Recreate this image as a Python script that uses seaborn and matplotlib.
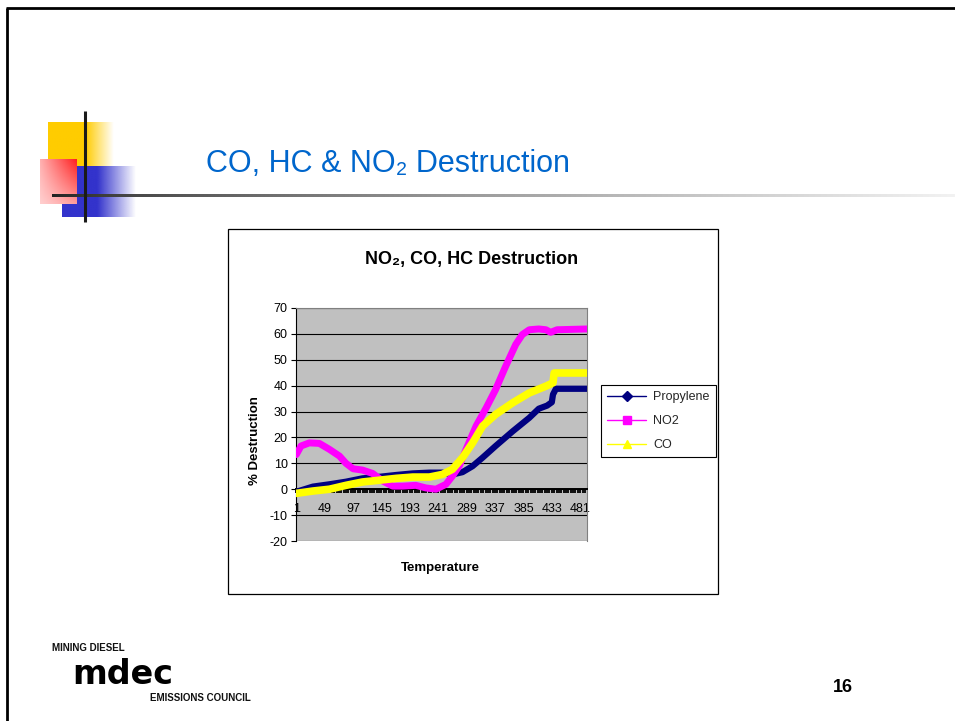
import numpy as np
import pandas as pd
import matplotlib
matplotlib.use("Agg")
import matplotlib.pyplot as plt
import seaborn as sns
from matplotlib.lines import Line2D
from matplotlib.patches import Rectangle

# ---------------- data ----------------
n_categories = 492
tick_labels = [1, 49, 97, 145, 193, 241, 289, 337, 385, 433, 481]
y_ticks = [-20, -10, 0, 10, 20, 30, 40, 50, 60, 70]
series_names = ["Propylene", "NO2", "CO"]

propylene_x = [1, 29, 57, 85, 113, 142, 170, 198, 226, 248, 265, 282, 299, 316, 338,
               367, 395, 411, 425, 433, 435, 440, 492]
propylene_y = [-1.0, 1.0, 1.9, 2.9, 4.2, 4.8, 5.5, 6.1, 6.4, 6.4, 5.7, 6.6, 8.9, 12.2, 16.7,
               22.4, 27.6, 31.1, 32.3, 33.6, 36.6, 38.8, 38.8]

no2_x = [1, 9, 23, 40, 57, 74, 85, 97, 113, 130, 147, 164, 181, 203, 220, 237, 254, 265,
         277, 288, 305, 322, 338, 355, 372, 383, 395, 411, 423, 431, 442, 492]
no2_y = [13.4, 16.7, 17.9, 17.7, 15.4, 12.8, 10.0, 7.9, 7.4, 6.1, 3.2, 1.2, 1.2, 1.5, 0.5,
         0.0, 1.9, 5.1, 9.2, 15.4, 24.4, 31.4, 38.5, 47.5, 55.9, 59.7, 61.6, 61.9, 61.6,
         60.6, 61.6, 61.9]

co_x = [1, 29, 57, 85, 113, 142, 170, 198, 226, 248, 265, 282, 299, 316, 338, 367, 395,
        423, 435, 437, 492]
co_y = [-1.6, -0.7, 0.0, 1.5, 2.8, 3.5, 4.2, 4.7, 4.7, 5.7, 7.7, 12.2, 17.9, 24.4, 28.9,
        33.4, 37.2, 39.8, 41.1, 44.9, 44.9]

colors = {"Propylene": "#000080", "NO2": "#FF00FF", "CO": "#FFFF00"}
markers = {"Propylene": "D", "NO2": "s", "CO": "^"}

df = pd.concat([
    pd.DataFrame({"Temperature": propylene_x, "Destruction": propylene_y, "Gas": "Propylene"}),
    pd.DataFrame({"Temperature": no2_x, "Destruction": no2_y, "Gas": "NO2"}),
    pd.DataFrame({"Temperature": co_x, "Destruction": co_y, "Gas": "CO"}),
], ignore_index=True)

# ---------------- style ----------------
sns.set_theme(style="white")
plt.rcParams["font.family"] = ["Liberation Sans", "DejaVu Sans"]

W, H = 955, 721
fig = plt.figure(figsize=(W / 100, H / 100), dpi=100)
fig.patch.set_facecolor("white")

# background / slide decoration layer (pixel coordinates)
bg = fig.add_axes([0, 0, 1, 1], zorder=0)
bg.set_xlim(0, W)
bg.set_ylim(H, 0)
bg.axis("off")


def hfade(x0, x1, y0, y1, rgb, solid):
    t = np.linspace(0, 1, 300)
    a = np.where(t < solid, 1.0, np.clip(1 - (t - solid) / (1 - solid), 0, 1))
    arr = np.zeros((2, 300, 4))
    arr[..., :3] = rgb
    arr[..., 3] = a
    bg.imshow(arr, extent=(x0, x1, y1, y0), aspect="auto", interpolation="bilinear", zorder=1)


hfade(48, 113, 122, 166, (1.0, 0.8, 0.0), 0.57)
hfade(62, 135, 166, 217, (0.2, 0.2, 0.8), 0.48)

# red square gradient
tx = np.linspace(0, 1, 60)[None, :]
sy = np.linspace(0, 1, 60)[:, None]
k = np.clip((0.25 + 0.75 * tx) * (1 - 0.65 * sy), 0, 1)
red = np.array([1.0, 0.12, 0.12])
pale = np.array([1.0, 0.88, 0.88])
rarr = pale[None, None, :] + (red - pale)[None, None, :] * k[..., None]
bg.imshow(rarr, extent=(40, 76, 204, 159), aspect="auto", interpolation="bilinear", zorder=2)

# horizontal gradient rule
g = np.linspace(0, 1, 500) ** 0.7
c = 0.13 + (0.95 - 0.13) * g
harr = np.stack([c, c, c], axis=-1)[None, :, :]
bg.imshow(harr, extent=(52, W, 197.5, 194.5), aspect="auto", interpolation="bilinear", zorder=3)
bg.plot([85, 85], [111, 222], color="#1a1a1a", lw=2.2, zorder=4, solid_capstyle="butt")

# slide border
bg.plot([7.3, 7.3], [8.3, H], color="black", lw=2.0, solid_capstyle="butt")
bg.plot([6.3, W], [8.3, 8.3], color="black", lw=2.0, solid_capstyle="butt")

# chart box
bg.add_patch(Rectangle((228, 229), 490, 365, facecolor="white", edgecolor="black", lw=0.9, zorder=5))
bg.set_xlim(0, W)
bg.set_ylim(H, 0)

# ---------------- chart ----------------
ax = fig.add_axes([296 / W, 1 - 541 / H, 291 / W, 233 / H], zorder=1)
ax.set_facecolor("#C0C0C0")

widths = {"Propylene": 4.5, "NO2": 5.0, "CO": 5.5}
for name in series_names:
    sub = df[df["Gas"] == name]
    sns.lineplot(data=sub, x="Temperature", y="Destruction", color=colors[name],
                 linewidth=widths[name], ax=ax, legend=False, sort=False,
                 estimator=None, zorder=3, solid_joinstyle="round")

ax.set_xlim(0.5, n_categories + 0.5)
ax.set_ylim(-20, 70)
ax.set_yticks(y_ticks)
ax.set_yticklabels([str(v) for v in y_ticks])
ax.yaxis.grid(True, color="black", lw=0.8)
ax.xaxis.grid(False)
ax.set_axisbelow(True)
ax.set_xticks(tick_labels)
ax.set_xticklabels([str(t) for t in tick_labels])
ax.set_xticks(list(range(1, n_categories + 1, 4)), minor=True)
ax.set_xlabel("")
ax.set_ylabel("")

ax.spines["bottom"].set_position(("data", 0))
ax.spines["bottom"].set_color("black")
ax.spines["bottom"].set_linewidth(1.4)
ax.spines["left"].set_color("black")
ax.spines["left"].set_linewidth(0.8)
for s in ["top", "right"]:
    ax.spines[s].set_color("#808080")
    ax.spines[s].set_linewidth(0.8)

ax.tick_params(axis="x", which="both", direction="out", length=2.8, width=1.3,
               color="black", bottom=True)
ax.tick_params(axis="x", which="major", pad=7.0, labelsize=9, labelcolor="black")
ax.tick_params(axis="y", direction="out", length=3.5, width=0.8, color="black",
               left=True, pad=2.5, labelsize=9, labelcolor="black")

# chart texts
fig.text(472 / W, 1 - 264 / H, "NO\u2082, CO, HC Destruction", ha="center", va="baseline",
         fontsize=13, fontweight="bold", color="black", zorder=3)
fig.text(255 / W, 1 - 441 / H, "% Destruction", rotation=90, ha="center", va="center",
         fontsize=9.5, fontweight="bold", color="black", zorder=3)
fig.text(440 / W, 1 - 567.5 / H, "Temperature", ha="center", va="center",
         fontsize=9.5, fontweight="bold", color="black", zorder=3)

handles = [Line2D([], [], color=colors[n], marker=markers[n], markersize=6 if n != "Propylene" else 5,
                  markeredgecolor=colors[n], markerfacecolor=colors[n], lw=1.0)
           for n in series_names]
leg = fig.legend(handles, series_names, loc="upper left",
                 bbox_to_anchor=(601 / W, 1 - 385 / H), bbox_transform=fig.transFigure,
                 frameon=True, fancybox=False, edgecolor="black", framealpha=1,
                 fontsize=9, handlelength=3.1, handletextpad=0.6, labelspacing=0.95,
                 borderpad=0.5, borderaxespad=0)
leg.get_frame().set_linewidth(0.8)
leg.set_zorder(5)

# slide texts
fig.text(206 / W, 1 - 172 / H, "CO, HC & NO\u2082 Destruction", ha="left", va="baseline",
         fontsize=22, color="#0066CC", zorder=3)
fig.text(843 / W, 1 - 688 / H, "16", ha="center", va="center", fontsize=13,
         fontweight="bold", color="black", zorder=3)
fig.text(52 / W, 1 - 648 / H, "MINING DIESEL", ha="left", va="center", fontsize=7,
         fontweight="bold", color="#111111", zorder=3)
fig.text(72 / W, 1 - 684 / H, "mdec", ha="left", va="baseline", fontsize=24,
         fontweight="bold", family=["DejaVu Sans"], color="black", zorder=3)
fig.text(150 / W, 1 - 698 / H, "EMISSIONS COUNCIL", ha="left", va="center", fontsize=7,
         fontweight="bold", color="#111111", zorder=3)

fig.savefig("out.png", dpi=100, facecolor="white")
